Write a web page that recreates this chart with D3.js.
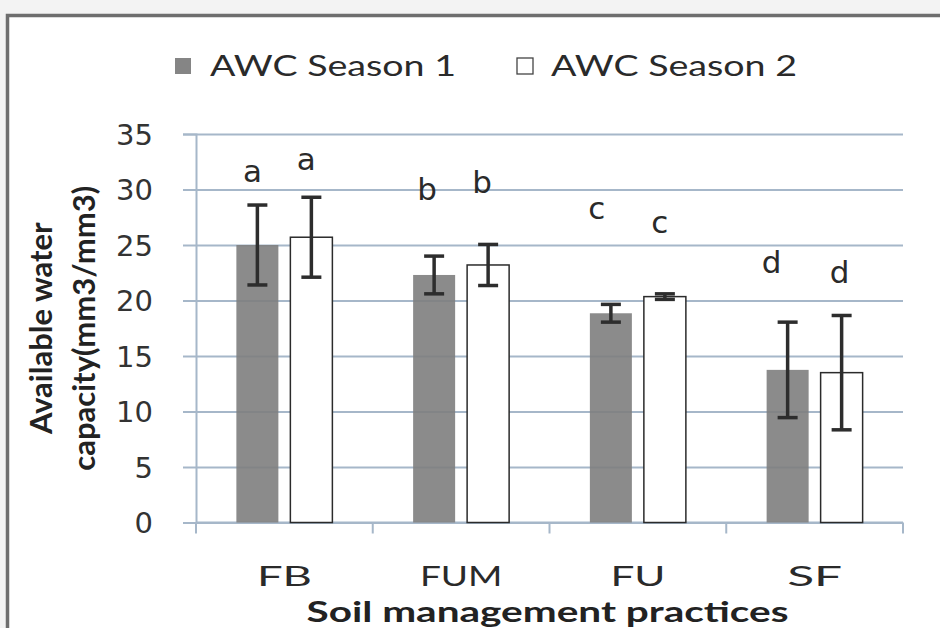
<!DOCTYPE html>
<html>
<head>
<meta charset="utf-8">
<script src="https://cdn.jsdelivr.net/npm/d3@7"></script>
<style>
  html, body { margin: 0; padding: 0; background: #f3f3f3; overflow: hidden; }
  svg { display: block; }
</style>
</head>
<body>
<svg id="chart" width="940" height="628"></svg>
<script>
// Available water capacity by soil management practice, two seasons
const categories = ["FB", "FUM", "FU", "SF"];
const seriesNames = ["AWC Season 1", "AWC Season 2"];
const season1 = [25.0, 22.3, 18.85, 13.75];
const season2 = [25.7, 23.2, 20.35, 13.5];
const season1Err = [3.6, 1.7, 0.8, 4.3];
const season2Err = [3.6, 1.85, 0.25, 5.15];
const season1Letters = ["a", "b", "c", "d"];
const season2Letters = ["a", "b", "c", "d"];
// height (in axis units) at which each significance letter sits
const season1LetterAt = [30.7, 29.05, 27.3, 22.5];
const season2LetterAt = [31.75, 29.7, 26.05, 21.6];
const yTicks = [0, 5, 10, 15, 20, 25, 30, 35];

// layout of the letter annotations (horizontal nudge, px)
const letterNudge = [[-5, -7, -14, -16], [-5, -6, -5, -2]];

const svg = d3.select("#chart");
const W = 940, H = 628;
const plot = { left: 196, right: 903, top: 134, bottom: 522.5 };

const gridColor = "#a6b7c9";
const calibriLike = "Lato, 'Open Sans', sans-serif";
const numFont = "'DejaVu Sans', Verdana, sans-serif";

// chart area: white panel with a border along its top and left edges
svg.append("rect")
  .attr("x", 7.5).attr("y", 15.5)
  .attr("width", W - 7.5).attr("height", H - 15.5)
  .attr("fill", "#ffffff");
svg.append("path")
  .attr("d", `M7.5,${H} L7.5,15.5 L${W},15.5`)
  .attr("fill", "none")
  .attr("stroke", "#6e6e6e").attr("stroke-width", 3.5);

const y = d3.scaleLinear().domain([0, 35]).range([plot.bottom, plot.top]);
const x0 = d3.scaleBand().domain(categories).range([plot.left, plot.right]).padding(0);
const mid = x0.bandwidth() / 2;
const x1 = d3.scaleBand().domain(seriesNames).range([mid - 48, mid + 48]).paddingInner(0.222).paddingOuter(0);

// gridlines
const grid = svg.append("g").attr("transform", `translate(${plot.left},0)`)
  .call(d3.axisLeft(y).tickValues(yTicks).tickSize(-(plot.right - plot.left)).tickFormat(""));
grid.select(".domain").remove();
grid.selectAll(".tick line").attr("stroke", gridColor).attr("stroke-width", 2);

// y axis with outward ticks and labels
const yAxis = svg.append("g").attr("transform", `translate(${plot.left},0)`)
  .call(d3.axisLeft(y).tickValues(yTicks).tickSize(13).tickPadding(30));
yAxis.select(".domain").attr("stroke", gridColor).attr("stroke-width", 2);
yAxis.selectAll(".tick line").attr("stroke", gridColor).attr("stroke-width", 2);
yAxis.selectAll(".tick text")
  .attr("font-family", numFont).attr("font-size", 29).attr("fill", "#333")
  .attr("dy", "0.36em");

// x axis with category tick marks between groups
const xAxis = svg.append("g").attr("transform", `translate(0,${plot.bottom})`);
xAxis.append("line")
  .attr("x1", plot.left).attr("x2", plot.right)
  .attr("stroke", gridColor).attr("stroke-width", 2);
const edges = categories.map(c => x0(c)).concat([x0(categories[categories.length - 1]) + x0.bandwidth()]);
xAxis.selectAll("line.tk").data(edges).enter().append("line")
  .attr("class", "tk")
  .attr("x1", d => d).attr("x2", d => d).attr("y1", 0).attr("y2", 11)
  .attr("stroke", gridColor).attr("stroke-width", 2);
xAxis.selectAll("text.cat").data(categories).enter().append("text")
  .attr("class", "cat")
  .attr("x", d => x0(d) + mid).attr("y", 63)
  .attr("text-anchor", "middle")
  .attr("font-family", calibriLike).attr("font-size", 26).attr("fill", "#2a2a2a")
  .attr("textLength", d => d.length * 27.5).attr("lengthAdjust", "spacingAndGlyphs")
  .text(d => d);

// bars
const rows = categories.map((c, i) => ({
  cat: c,
  vals: [
    { s: seriesNames[0], v: season1[i], e: season1Err[i], l: season1Letters[i], la: season1LetterAt[i], dx: letterNudge[0][i] },
    { s: seriesNames[1], v: season2[i], e: season2Err[i], l: season2Letters[i], la: season2LetterAt[i], dx: letterNudge[1][i] }
  ]
}));

const groups = svg.selectAll("g.grp").data(rows).enter().append("g")
  .attr("class", "grp").attr("transform", d => `translate(${x0(d.cat)},0)`);

groups.selectAll("rect").data(d => d.vals).enter().append("rect")
  .attr("x", d => x1(d.s)).attr("width", x1.bandwidth())
  .attr("y", d => y(d.v)).attr("height", d => y(0) - y(d.v))
  .attr("fill", d => d.s === seriesNames[0] ? "#7e7e7e" : "#ffffff")
  .attr("fill-opacity", d => d.s === seriesNames[0] ? 0.9 : 1)
  .attr("stroke", d => d.s === seriesNames[0] ? "none" : "#2b2b2b")
  .attr("stroke-width", 1.5);

// error bars
const eb = groups.selectAll("g.err").data(d => d.vals).enter().append("g").attr("class", "err");
const cx = d => x1(d.s) + x1.bandwidth() / 2;
eb.append("line")
  .attr("x1", cx).attr("x2", cx)
  .attr("y1", d => y(d.v + d.e)).attr("y2", d => y(d.v - d.e));
eb.append("line")
  .attr("x1", d => cx(d) - 10).attr("x2", d => cx(d) + 10)
  .attr("y1", d => y(d.v + d.e)).attr("y2", d => y(d.v + d.e));
eb.append("line")
  .attr("x1", d => cx(d) - 10).attr("x2", d => cx(d) + 10)
  .attr("y1", d => y(d.v - d.e)).attr("y2", d => y(d.v - d.e));
eb.selectAll("line").attr("stroke", "#2d2d2d").attr("stroke-width", 3.5);

// significance letters
groups.selectAll("text.sig").data(d => d.vals).enter().append("text")
  .attr("class", "sig")
  .attr("x", d => cx(d) + d.dx).attr("y", d => y(d.la))
  .attr("text-anchor", "middle")
  .attr("font-family", numFont).attr("font-size", 31).attr("fill", "#2a2a2a")
  .text(d => d.l);

// legend
const legend = svg.append("g");
const legendItems = [
  { name: seriesNames[0], sx: 175, tx: 210, fill: "#858585", stroke: "none" },
  { name: seriesNames[1], sx: 517, tx: 551, fill: "#ffffff", stroke: "#444" }
];
legendItems.forEach(it => {
  legend.append("rect")
    .attr("x", it.sx).attr("y", 58).attr("width", 16).attr("height", 16)
    .attr("fill", it.fill).attr("stroke", it.stroke).attr("stroke-width", 1.3);
  legend.append("text")
    .attr("x", it.tx).attr("y", 76)
    .attr("font-family", calibriLike).attr("font-size", 29).attr("fill", "#2a2a2a")
    .attr("textLength", 246).attr("lengthAdjust", "spacingAndGlyphs")
    .text(it.name);
});

// axis titles
svg.append("text")
  .attr("x", (plot.left + plot.right) / 2 - 2).attr("y", 622)
  .attr("text-anchor", "middle")
  .attr("font-family", calibriLike).attr("font-weight", 700).attr("font-size", 29)
  .attr("fill", "#222")
  .attr("textLength", 482).attr("lengthAdjust", "spacingAndGlyphs")
  .text("Soil management practices");

const yTitle = svg.append("text")
  .attr("transform", `translate(0,${(plot.top + plot.bottom) / 2}) rotate(-90)`)
  .attr("text-anchor", "middle")
  .attr("font-family", calibriLike).attr("font-weight", 700).attr("font-size", 31)
  .attr("fill", "#222");
yTitle.append("tspan").attr("x", 0).attr("y", 52).text("Available water");
yTitle.append("tspan").attr("x", 0).attr("y", 95).text("capacity(mm3/mm3)");
</script>
</body>
</html>
